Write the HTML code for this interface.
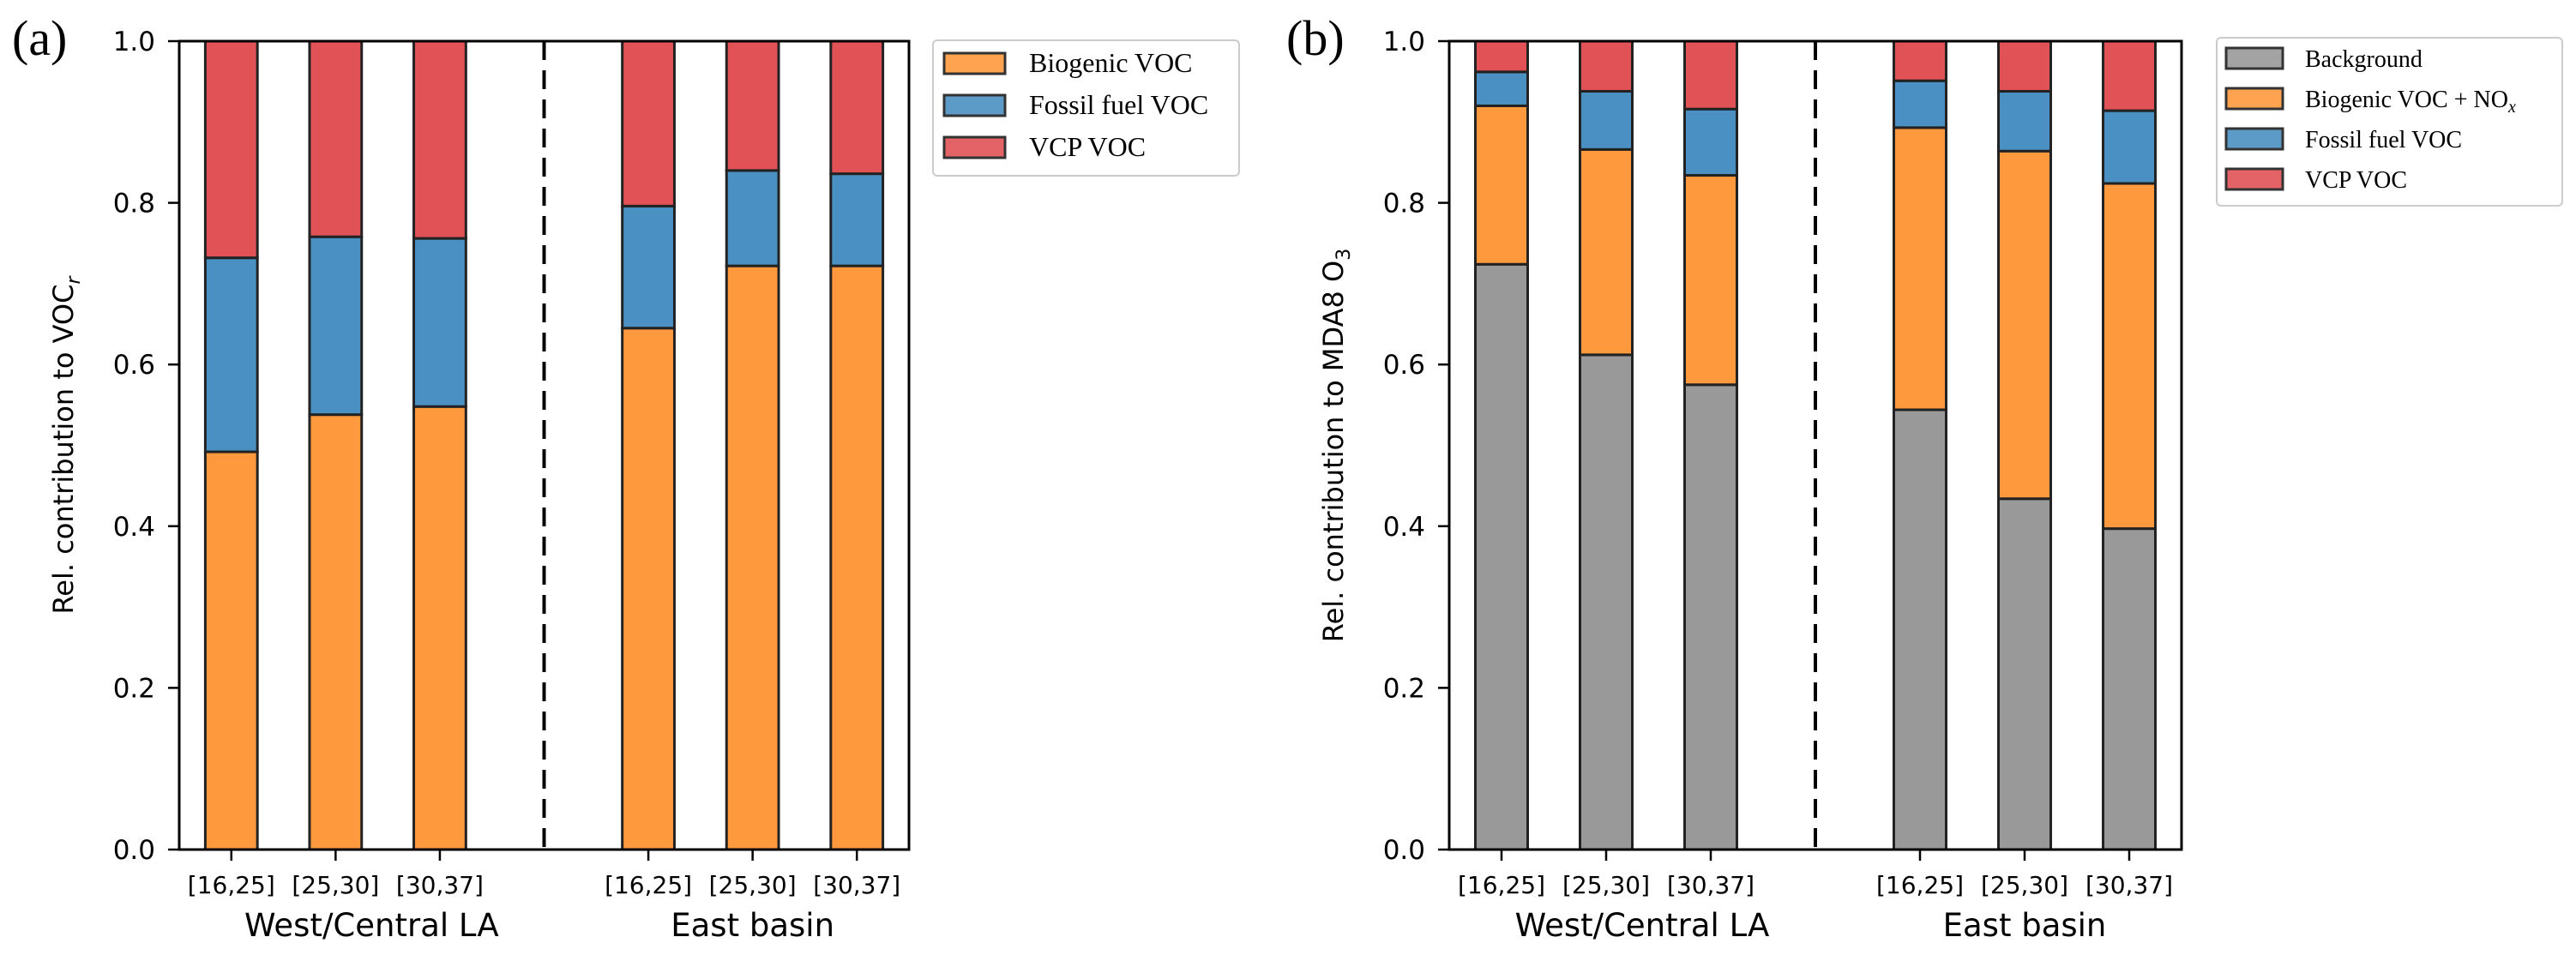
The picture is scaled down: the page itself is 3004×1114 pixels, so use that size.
<!DOCTYPE html>
<html><head><meta charset="utf-8"><style>
html,body{margin:0;padding:0;background:#fff;}
svg{display:block;}
</style></head><body>
<svg id="chart" width="3004" height="1114" xmlns="http://www.w3.org/2000/svg">
<g id="pa"></g>
<g id="pb"></g>
</svg>
<script>
const categories = ["[16,25]","[25,30]","[30,37]","[16,25]","[25,30]","[30,37]"];
const positions = [0,1,2,4,5,6];
const groupLabels = ["West/Central LA","East basin"];
const yTicks = [0,0.2,0.4,0.6,0.8,1.0];
const yTickLabels = ["0.0","0.2","0.4","0.6","0.8","1.0"];
// panel a
const aBiogenic = [0.492,0.538,0.548,0.645,0.722,0.722];
const aFossil = [0.240,0.220,0.208,0.151,0.118,0.114];
const aVCP = [0.268,0.242,0.244,0.204,0.160,0.164];
// panel b
const bBackground = [0.724,0.612,0.575,0.544,0.434,0.397];
const bBiogenic = [0.196,0.254,0.259,0.349,0.430,0.427];
const bFossil = [0.042,0.072,0.082,0.058,0.074,0.090];
const bVCP = [0.038,0.062,0.084,0.049,0.062,0.086];

const NS="http://www.w3.org/2000/svg";
const COL={orange:"#ff993e",blue:"#4a90c2",red:"#e05256",gray:"#999999"};
function mk(parent,tag,attrs,text){const e=document.createElementNS(NS,tag);for(const k in attrs)e.setAttribute(k,attrs[k]);if(text!==undefined)e.textContent=text;parent.appendChild(e);return e;}

function panel(g,L,R,series,names,colors,ylabel,ylabelSub,panelLabel,plx,legend){
  const T=48,B=991;
  const xs=v=>L+(v+0.5)*(R-L)/7;
  const ys=v=>B-v*(B-T);
  const bw=0.5*(R-L)/7;
  // bars
  for(let i=0;i<positions.length;i++){
    let base=0;
    for(let s=0;s<series.length;s++){
      const v=series[s][i];
      const r=mk(g,'rect',{x:xs(positions[i])-bw/2,y:ys(base+v),width:bw,height:ys(base)-ys(base+v),fill:colors[s],stroke:'#222',"stroke-width":3});
      
      
      base+=v;
    }
  }
  // dashed divider
  const d=mk(g,'line',{x1:xs(3),x2:xs(3),y1:T,y2:B,stroke:'#000',"stroke-width":4,"stroke-dasharray":"22,12"});
  
  
  // frame
  const f=mk(g,'rect',{x:L,y:T,width:R-L,height:B-T,fill:'none',stroke:'#000',"stroke-width":3});
  
  
  // y ticks
  for(let i=0;i<yTicks.length;i++){
    const y=ys(yTicks[i]);
    mk(g,'line',{x1:L-13,x2:L,y1:y,y2:y,stroke:'#000',"stroke-width":2.5});
    const t=mk(g,'text',{x:L-28,y:y+11,"text-anchor":"end","font-family":"DejaVu Sans, Liberation Sans, sans-serif","font-size":31},yTickLabels[i]);
    
    
  }
  // x ticks
  for(let i=0;i<positions.length;i++){
    const x=xs(positions[i]);
    mk(g,'line',{x1:x,x2:x,y1:B,y2:B+13,stroke:'#000',"stroke-width":2.5});
    const t=mk(g,'text',{x:x,y:1042,"text-anchor":"middle","font-family":"DejaVu Sans, Liberation Sans, sans-serif","font-size":28},categories[i]);
    
    
  }
  const gc=[xs(1)+42,xs(5)];
  for(let k=0;k<2;k++){
    const t=mk(g,'text',{x:gc[k],y:1092,"text-anchor":"middle","font-family":"DejaVu Sans, Liberation Sans, sans-serif","font-size":37},groupLabels[k]);
    
    
  }
  // y label
  const yl=mk(g,'text',{transform:`translate(${L-124},${(T+B)/2}) rotate(-90)`,"text-anchor":"middle","font-family":"DejaVu Sans, Liberation Sans, sans-serif","font-size":32});
  
  
  mk(yl,'tspan',{},ylabel);
  mk(yl,'tspan',{dy:8,"font-size":22,"font-style":ylabelSub.it?'italic':'normal'},ylabelSub.t);
  const pl=mk(g,'text',{x:plx,y:64,"font-family":"Liberation Serif, serif","font-size":58},panelLabel);
  
  
  // legend
  const lg=mk(g,'g',{});
  
  
  mk(lg,'rect',{x:legend.x,y:legend.y,width:legend.w,height:legend.h,rx:5,fill:'#fff',stroke:'#ccc',"stroke-width":2});
  for(let s=0;s<names.length;s++){
    const cy=legend.r0+s*legend.dy;
    const e=mk(lg,'g',{});
    
    
    mk(e,'rect',{x:legend.px,y:cy-12,width:legend.pw,height:24,fill:colors[s],"fill-opacity":0.9,stroke:'#333',"stroke-width":3});
    const t=mk(e,'text',{x:legend.tx,y:cy+10,"font-family":"Liberation Serif, serif","font-size":legend.fs,textLength:legend.tl?legend.tl[s]:null,lengthAdjust:'spacingAndGlyphs'});
    if(!legend.tl) t.removeAttribute('textLength');
    if(names[s].indexOf('NOx')>=0){t.textContent='Biogenic VOC + NO';mk(t,'tspan',{dy:6,"font-size":20,"font-style":"italic"},'x');}
    else t.textContent=names[s];
  }
}
panel(document.getElementById('pa'),209,1060,[aBiogenic,aFossil,aVCP],
  ["Biogenic VOC","Fossil fuel VOC","VCP VOC"],[COL.orange,COL.blue,COL.red],
  "Rel. contribution to VOC",{t:"r",it:true},"(a)",14,
  {x:1088,y:47,w:357,h:158,px:1101,pw:71,r0:74,dy:49,tx:1200,fs:32});
panel(document.getElementById('pb'),1690,2544,[bBackground,bBiogenic,bFossil,bVCP],
  ["Background","Biogenic VOC + NOx","Fossil fuel VOC","VCP VOC"],[COL.gray,COL.orange,COL.blue,COL.red],
  "Rel. contribution to MDA8 O",{t:"3",it:false},"(b)",1500,
  {x:2585,y:44,w:403,h:196,px:1596+1000,pw:66,r0:68,dy:47,tx:2688,fs:28});
</script>
</body></html>
